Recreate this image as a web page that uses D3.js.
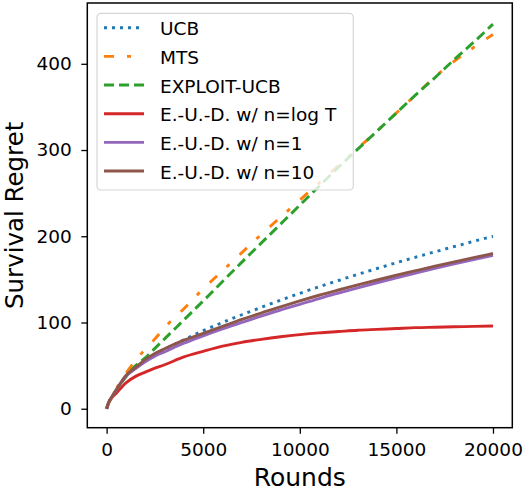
<!DOCTYPE html>
<html><head><meta charset="utf-8">
<script src="https://cdn.jsdelivr.net/npm/d3@7"></script>
<style>
html,body{margin:0;padding:0;background:#fff;}
svg{display:block;font-family:"DejaVu Sans",sans-serif;}
</style></head>
<body><svg id="c" width="524" height="492"></svg>
<script>
const rounds = [0,100,250,500,1000,1500,2000,2500,3000,4000,5000,6000,7000,8000,9000,10000,11000,12000,13000,14000,15000,16000,17000,18000,19000,20000];
const ucb     = [0,7,13,21.5,38,47.5,56,63.5,69,80,90.5,100,109,117.5,125.9,133.8,141.4,148.7,155.8,162.6,169.3,175.7,182,188.1,194.1,200];
const mts     = [0,6,12,23,41,56,69,81,94,116,139,160,181,202,222,242,262,282,302,322,343,364,385,403,419,434];
const exploit = [0,7,13,21.5,37,50,59,70,81,103,125,147.5,170,192,214,236,258,280,301,322,343,364,384,405,425,446];
const eudLog  = [0,7,12,18,30,37.5,42.5,47,51,60,66.5,72.5,77,80.5,83.5,86,88,89.5,91,92,93,94,94.5,95,95.5,96];
const eud1    = [0,7,13,21.5,37.5,46.5,54.5,61,66,76,84.5,92.5,100,107.5,114.5,121,127.8,134.1,140.2,146.1,151.8,157.3,162.7,167.9,173,178];
const eud10   = [0,7,13,22,38.5,48,57,64,69.5,79.5,87.5,95.5,103.5,111,118,125,131.6,137.7,143.6,149.3,154.8,160.1,165.3,170.3,175.2,180];
const seriesNames = ["UCB","MTS","EXPLOIT-UCB","E.-U.-D. w/ n=log T","E.-U.-D. w/ n=1","E.-U.-D. w/ n=10"];
const seriesValues = [ucb, mts, exploit, eudLog, eud1, eud10];
const seriesColors = ["#1f77b4","#ff7f0e","#2ca02c","#d62728","#9467bd","#8c564b"];
const seriesDash = ["3,5","10,13,4,14","10,5",null,null,null];
const xTicks = [0,5000,10000,15000,20000];
const yTicks = [0,100,200,300,400];

const svg = d3.select("#c");
const L = 87.3, R = 512.3, T = 3, B = 427.7;
const x = d3.scaleLinear().domain([-1000,21000]).range([L,R]);
const y = d3.scaleLinear().domain([-22,470.5]).range([B,T]);

const line = d3.line().x((d,i)=>x(rounds[i])).y(d=>y(d)).curve(d3.curveMonotoneX);

const plot = svg.append("g");
seriesValues.forEach((vals,k)=>{
  plot.append("path").datum(vals).attr("d",line)
    .attr("fill","none").attr("stroke",seriesColors[k])
    .attr("stroke-width",2.9)
    .attr("stroke-dasharray",seriesDash[k])
    .attr("stroke-linecap","butt").attr("stroke-linejoin","round");
});

// axes
const xa = svg.append("g").attr("transform",`translate(0,${B})`)
  .call(d3.axisBottom(x).tickValues(xTicks).tickFormat(d3.format("d")).tickSize(6).tickPadding(9.5));
const ya = svg.append("g").attr("transform",`translate(${L},0)`)
  .call(d3.axisLeft(y).tickValues(yTicks).tickFormat(d3.format("d")).tickSize(6).tickPadding(9.5));
[xa,ya].forEach(a=>{
  a.select(".domain").remove();
  a.selectAll("line").attr("stroke","#000").attr("stroke-width",1.3);
  a.selectAll("text").attr("font-size","18.5px").attr("fill","#000").attr("font-family","DejaVu Sans");
});

svg.append("rect").attr("x",L).attr("y",T).attr("width",R-L).attr("height",B-T)
  .attr("fill","none").attr("stroke","#000").attr("stroke-width",1.5);

// axis labels
svg.append("text").attr("x",(L+R)/2).attr("y",486).attr("text-anchor","middle")
  .attr("font-size","25px").attr("fill","#000").text("Rounds");
svg.append("text").attr("transform",`translate(23,${(T+B)/2}) rotate(-90)`).attr("text-anchor","middle")
  .attr("font-size","24.5px").attr("fill","#000").text("Survival Regret");

// legend
const lg = svg.append("g");
lg.append("rect").attr("x",97).attr("y",13.3).attr("width",256.3).attr("height",176.7)
  .attr("rx",4).attr("fill","rgba(255,255,255,0.8)").attr("stroke","#d6d6d6").attr("stroke-width",1.2);
const rowY = d3.scaleLinear().domain([0,5]).range([27.7,171]);
seriesNames.forEach((n,k)=>{
  lg.append("line").attr("x1",104).attr("x2",144).attr("y1",rowY(k)).attr("y2",rowY(k))
    .attr("stroke",seriesColors[k]).attr("stroke-width",2.9).attr("stroke-dasharray",seriesDash[k]);
  lg.append("text").attr("x",160).attr("y",rowY(k)+7.5).attr("font-size","18.5px").attr("fill","#000").text(n);
});
</script></body></html>
